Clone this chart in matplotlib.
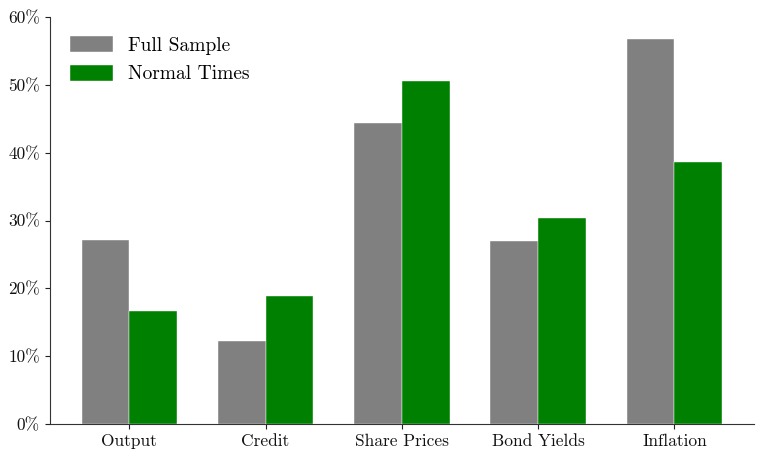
import matplotlib
matplotlib.use("Agg")
import matplotlib.pyplot as plt
import numpy as np
from matplotlib.ticker import FuncFormatter

categories = ["Output", "Credit", "Share Prices", "Bond Yields", "Inflation"]
full_sample = [27.2, 12.3, 44.4, 27.0, 56.8]
normal_times = [16.6, 18.9, 50.5, 30.4, 38.7]
series_labels = ["Full Sample", "Normal Times"]

plt.rcParams['font.family'] = 'serif'
plt.rcParams['font.serif'] = ['cmr10']
plt.rcParams['mathtext.fontset'] = 'cm'
plt.rcParams['axes.unicode_minus'] = False

fig = plt.figure(figsize=(7.68, 4.59), dpi=100)
ax = fig.add_axes([0.0645, 0.076, 0.9175, 0.887])

x = np.arange(len(categories))
w = 0.35
ax.bar(x - w/2, full_sample, w, color='#808080', edgecolor='white', linewidth=0.3, label=series_labels[0])
ax.bar(x + w/2, normal_times, w, color='#008000', edgecolor='white', linewidth=0.3, label=series_labels[1])

ax.set_ylim(0, 60)
ax.set_yticks(np.arange(0, 61, 10))
ax.yaxis.set_major_formatter(FuncFormatter(lambda v, p: f"{int(v)}%"))
ax.set_xticks(x)
ax.set_xticklabels(categories)
ax.tick_params(labelsize=12.5, colors='#222222', labelcolor='#111111')
for s in ['top', 'right']:
    ax.spines[s].set_visible(False)
for s in ['left', 'bottom']:
    ax.spines[s].set_color('#333333')

ax.legend(loc='upper left', frameon=False, fontsize=14, handlelength=2.2, handleheight=0.9,
          bbox_to_anchor=(0.004, 0.996))

fig.savefig("out.png", dpi=100)
